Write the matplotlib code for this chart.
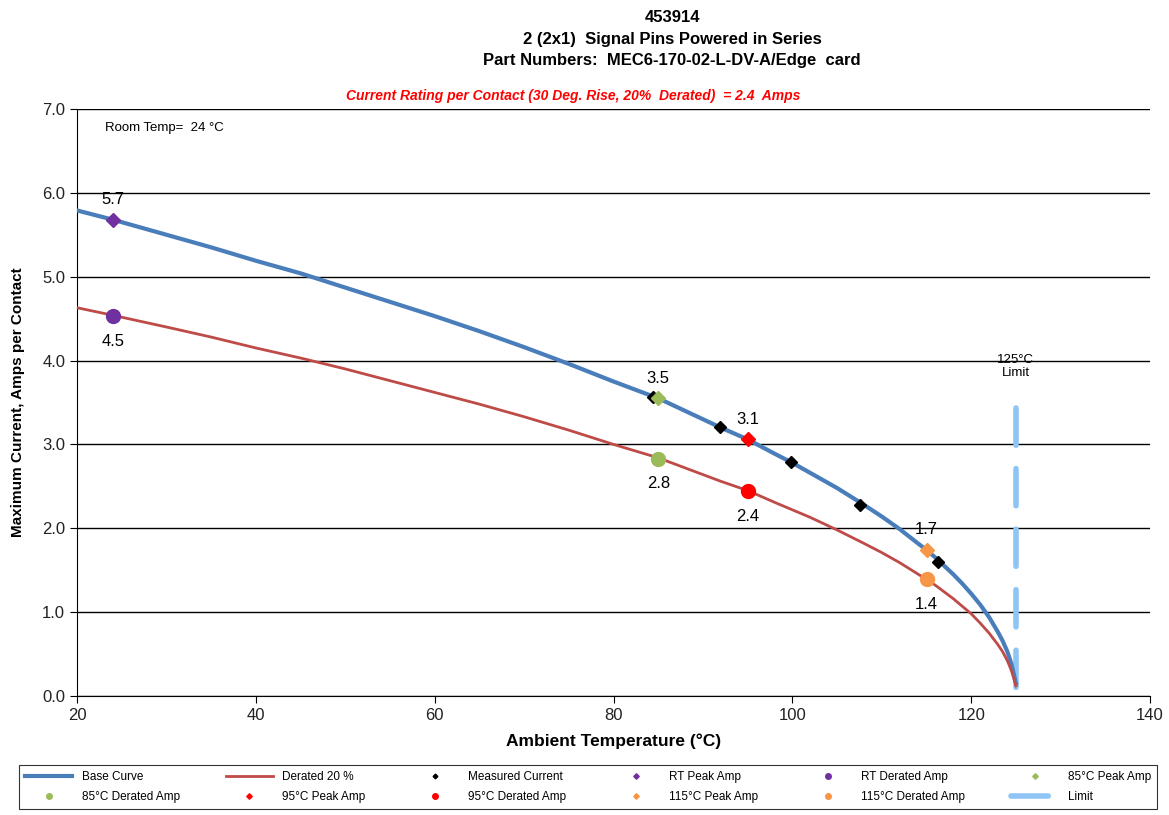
import matplotlib
matplotlib.use("Agg")
import matplotlib.pyplot as plt

plt.rcParams['font.family'] = ['Liberation Sans', 'DejaVu Sans']

# curve values
temps = [20, 24, 30, 35, 40, 45, 50, 55, 60, 65, 70, 75, 80, 85, 88, 90, 92, 95, 98,
         100, 102, 105, 108, 110, 112, 115, 116, 117, 118, 119, 120, 121, 122, 123,
         123.5, 124, 124.2, 124.5, 124.7, 125]
base_curve = [5.79, 5.68, 5.50, 5.35, 5.19, 5.04, 4.87, 4.70, 4.53, 4.35, 4.16, 3.96,
              3.75, 3.55, 3.40, 3.30, 3.20, 3.06, 2.89, 2.78, 2.66, 2.48, 2.28, 2.14,
              1.99, 1.74, 1.65, 1.55, 1.45, 1.34, 1.22, 1.09, 0.94, 0.76, 0.66, 0.54,
              0.48, 0.38, 0.29, 0.15]
derated_curve = [4.63, 4.54, 4.40, 4.28, 4.15, 4.03, 3.90, 3.76, 3.62, 3.48, 3.33,
                 3.17, 3.00, 2.84, 2.72, 2.64, 2.56, 2.45, 2.31, 2.22, 2.13, 1.98, 1.82,
                 1.71, 1.59, 1.39, 1.32, 1.24, 1.16, 1.07, 0.98, 0.87, 0.75, 0.61, 0.53,
                 0.43, 0.38, 0.30, 0.23, 0.12]

meas_t = [84.4, 91.9, 99.9, 107.6, 116.3]
meas_i = [3.57, 3.21, 2.79, 2.28, 1.60]

peak_t = [24, 85, 95, 115]
peak_i = [5.68, 3.55, 3.06, 1.74]
derated_i = [4.53, 2.83, 2.44, 1.39]
peak_labels = ['5.7', '3.5', '3.1', '1.7']
derated_labels = ['4.5', '2.8', '2.4', '1.4']
peak_names = ['RT Peak Amp', '85°C Peak Amp', '95°C Peak Amp', '115°C Peak Amp']
derated_names = ['RT Derated Amp', '85°C Derated Amp', '95°C Derated Amp', '115°C Derated Amp']
point_colors = ['#7030A0', '#9BBB59', '#FF0000', '#F79646']

limit_t = [125, 125]
limit_i = [3.43, 0]

fig = plt.figure(figsize=(11.69, 8.15), dpi=100)
ax = fig.add_axes([0.0659, 0.146, 0.9179, 0.7203])

h_base, = ax.plot(temps, base_curve, color='#4A7EBB', lw=3, label='Base Curve', zorder=3)
h_der, = ax.plot(temps, derated_curve, color='#BE4B48', lw=2, label='Derated 20 %', zorder=3)
h_meas, = ax.plot(meas_t, meas_i, 'D', color='black', ms=6, ls='none',
                  label='Measured Current', zorder=5)

point_handles = []
for k in range(4):
    h1, = ax.plot(peak_t[k], peak_i[k], 'D', color=point_colors[k], ms=7, zorder=6,
                  label=peak_names[k])
    h2, = ax.plot(peak_t[k], derated_i[k], 'o', color=point_colors[k], ms=10, zorder=6,
                  label=derated_names[k])
    point_handles += [h1, h2]
    ax.text(peak_t[k], peak_i[k] + 0.24, peak_labels[k], ha='center', va='center', fontsize=12)
    ax.text(peak_t[k], derated_i[k] - 0.30, derated_labels[k], ha='center', va='center', fontsize=12)

h_lim, = ax.plot(limit_t, limit_i, color='#8EC5F5', lw=4, dashes=(6.7, 4.2),
                 dash_capstyle='round', label='Limit', zorder=2)
ax.text(125, 3.93, '125°C\nLimit', ha='center', va='center', fontsize=9.5, linespacing=1.2)
ax.text(23.1, 6.77, 'Room Temp=  24 °C', fontsize=9.5, va='center')

ax.set_xlim(20, 140)
ax.set_ylim(0, 7)
ax.set_xticks(range(20, 141, 20))
ax.set_yticks(range(0, 8))
ax.set_yticklabels(['%.1f' % v for v in range(0, 8)])
ax.tick_params(labelsize=12, direction='out', length=5, color='black', labelcolor='#222222')
ax.yaxis.grid(True, color='black', lw=1)
ax.set_axisbelow(True)
for s in ['top', 'right']:
    ax.spines[s].set_visible(False)
ax.set_xlabel('Ambient Temperature (°C)', fontsize=12.5, fontweight='bold', labelpad=8)
ax.set_ylabel('Maximum Current, Amps per Contact', fontsize=11, fontweight='bold', labelpad=12)

fig.text(0.575, 0.978, '453914', ha='center', va='center', fontsize=12, fontweight='bold')
fig.text(0.575, 0.952, '2 (2x1)  Signal Pins Powered in Series', ha='center', va='center',
         fontsize=12, fontweight='bold')
fig.text(0.575, 0.926, 'Part Numbers:  MEC6-170-02-L-DV-A/Edge  card', ha='center', va='center',
         fontsize=12, fontweight='bold')
fig.text(0.49, 0.882, 'Current Rating per Contact (30 Deg. Rise, 20%  Derated)  = 2.4  Amps',
         ha='center', va='center', fontsize=10, fontweight='bold', style='italic', color='#FF0000')

# legend in row-major order (matplotlib fills column by column)
rows = [[h_base, h_der, h_meas] + point_handles[:3],
        point_handles[3:] + [h_lim]]
order = []
for c in range(6):
    order += [rows[0][c], rows[1][c]]
leg = fig.legend(handles=order, labels=[h.get_label() for h in order], ncol=6,
                 loc='lower center', bbox_to_anchor=(0.503, 0.0), frameon=True,
                 fancybox=False, edgecolor='black', fontsize=8.5, handlelength=4,
                 columnspacing=3.9, markerscale=0.4, borderpad=0.5, labelspacing=0.7)
leg.get_frame().set_linewidth(0.8)

fig.savefig('out.png', dpi=100)
